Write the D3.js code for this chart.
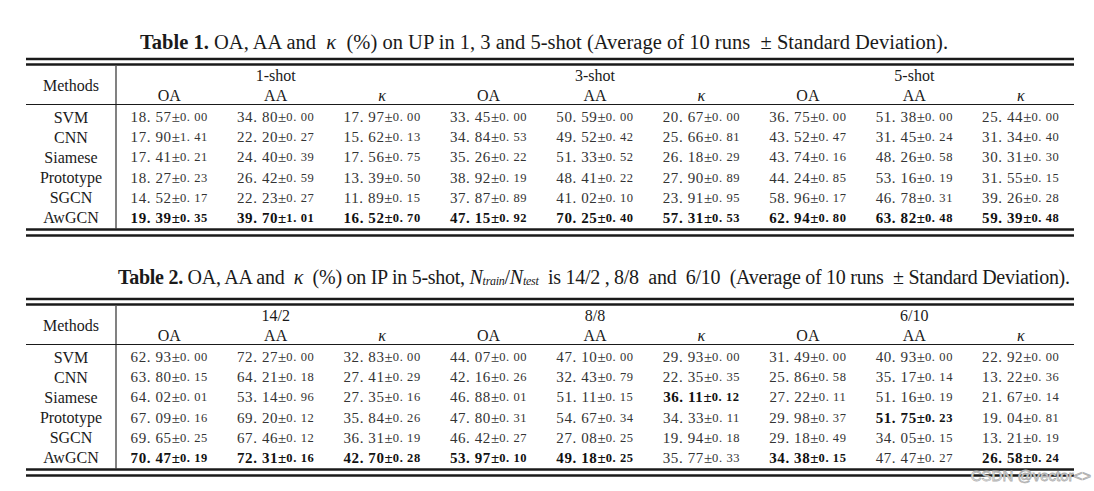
<!DOCTYPE html>
<html>
<head>
<meta charset="utf-8">
<script src="https://cdn.jsdelivr.net/npm/d3@7"></script>
<style>
  body { margin: 0; background: #fff; }
  svg { display: block; }
</style>
</head>
<body>
<div id="chart"></div>
<script>
// table data
const methods = ["SVM", "CNN", "Siamese", "Prototype", "SGCN", "AwGCN"];
const metrics = ["OA", "AA", "κ", "OA", "AA", "κ", "OA", "AA", "κ"];
const groups1 = ["1-shot", "3-shot", "5-shot"];
const groups2 = ["14/2", "8/8", "6/10"];

const t1Mean = [
  [18.57, 34.80, 17.97, 33.45, 50.59, 20.67, 36.75, 51.38, 25.44],
  [17.90, 22.20, 15.62, 34.84, 49.52, 25.66, 43.52, 31.45, 31.34],
  [17.41, 24.40, 17.56, 35.26, 51.33, 26.18, 43.74, 48.26, 30.31],
  [18.27, 26.42, 13.39, 38.92, 48.41, 27.90, 44.24, 53.16, 31.55],
  [14.52, 22.23, 11.89, 37.87, 41.02, 23.91, 58.96, 46.78, 39.26],
  [19.39, 39.70, 16.52, 47.15, 70.25, 57.31, 62.94, 63.82, 59.39]
];
const t1Std = [
  [0.00, 0.00, 0.00, 0.00, 0.00, 0.00, 0.00, 0.00, 0.00],
  [1.41, 0.27, 0.13, 0.53, 0.42, 0.81, 0.47, 0.24, 0.40],
  [0.21, 0.39, 0.75, 0.22, 0.52, 0.29, 0.16, 0.58, 0.30],
  [0.23, 0.59, 0.50, 0.19, 0.22, 0.89, 0.85, 0.19, 0.15],
  [0.17, 0.27, 0.15, 0.89, 0.10, 0.95, 0.17, 0.31, 0.28],
  [0.35, 1.01, 0.70, 0.92, 0.40, 0.53, 0.80, 0.48, 0.48]
];
const t1Bold = [[5, 0], [5, 1], [5, 2], [5, 3], [5, 4], [5, 5], [5, 6], [5, 7], [5, 8]];

const t2Mean = [
  [62.93, 72.27, 32.83, 44.07, 47.10, 29.93, 31.49, 40.93, 22.92],
  [63.80, 64.21, 27.41, 42.16, 32.43, 22.35, 25.86, 35.17, 13.22],
  [64.02, 53.14, 27.35, 46.88, 51.11, 36.11, 27.22, 51.16, 21.67],
  [67.09, 69.20, 35.84, 47.80, 54.67, 34.33, 29.98, 51.75, 19.04],
  [69.65, 67.46, 36.31, 46.42, 27.08, 19.94, 29.18, 34.05, 13.21],
  [70.47, 72.31, 42.70, 53.97, 49.18, 35.77, 34.38, 47.47, 26.58]
];
const t2Std = [
  [0.00, 0.00, 0.00, 0.00, 0.00, 0.00, 0.00, 0.00, 0.00],
  [0.15, 0.18, 0.29, 0.26, 0.79, 0.35, 0.58, 0.14, 0.36],
  [0.01, 0.96, 0.16, 0.01, 0.15, 0.12, 0.11, 0.19, 0.14],
  [0.16, 0.12, 0.26, 0.31, 0.34, 0.11, 0.37, 0.23, 0.81],
  [0.25, 0.12, 0.19, 0.27, 0.25, 0.18, 0.49, 0.15, 0.19],
  [0.19, 0.16, 0.28, 0.10, 0.25, 0.33, 0.15, 0.27, 0.24]
];
const t2Bold = [[5, 0], [5, 1], [5, 2], [5, 3], [5, 4], [2, 5], [5, 6], [3, 7], [5, 8]];

const width = 1094,
  height = 491,
  left = 26,
  right = 1074,
  sepX = 116,
  serif = "'Liberation Serif', 'Times New Roman', serif",
  ink = "#1a1a1a";

const svg = d3
  .create("svg")
  .attr("width", width)
  .attr("height", height)
  .attr("viewBox", [0, 0, width, height]);

const xCol = d3.scaleBand(d3.range(metrics.length), [sepX, right]);
const yRow = d3.scaleBand(methods, [107, 228]);

function drawTable(oy, groups, mean, std, bold) {
  const g = svg.append("g").attr("transform", `translate(0,${oy})`);
  const isBold = (r, c) => bold.some(([br, bc]) => br === r && bc === c);

  // rules
  [59, 64.5, 229.5, 235.5].forEach((y) => {
    g.append("line")
      .attr("x1", left).attr("x2", right)
      .attr("y1", y).attr("y2", y)
      .attr("stroke", ink).attr("stroke-width", 2.6);
  });
  g.append("line")
    .attr("x1", left).attr("x2", right)
    .attr("y1", 104.5).attr("y2", 104.5)
    .attr("stroke", ink).attr("stroke-width", 1.1);
  g.append("line")
    .attr("x1", sepX).attr("x2", sepX)
    .attr("y1", 66).attr("y2", 228.5)
    .attr("stroke", ink).attr("stroke-width", 1.1);

  // header
  g.append("text")
    .attr("x", (left + sepX) / 2).attr("y", 85)
    .attr("text-anchor", "middle").attr("dominant-baseline", "central")
    .attr("font-family", serif).attr("font-size", 16).attr("fill", ink)
    .text("Methods");

  g.selectAll(".grp")
    .data(groups)
    .join("text")
    .attr("class", "grp")
    .attr("x", (d, i) => xCol(i * 3 + 1) + xCol.bandwidth() / 2)
    .attr("y", 75)
    .attr("text-anchor", "middle").attr("dominant-baseline", "central")
    .attr("font-family", serif).attr("font-size", 16).attr("fill", ink)
    .text((d) => d);

  g.selectAll(".met")
    .data(metrics)
    .join("text")
    .attr("class", "met")
    .attr("x", (d, i) => xCol(i) + xCol.bandwidth() / 2)
    .attr("y", 95)
    .attr("text-anchor", "middle").attr("dominant-baseline", "central")
    .attr("font-family", serif).attr("font-size", 16).attr("fill", ink)
    .attr("font-style", (d) => (d === "κ" ? "italic" : null))
    .text((d) => d);

  // method names
  g.selectAll(".mth")
    .data(methods)
    .join("text")
    .attr("class", "mth")
    .attr("x", (left + sepX) / 2)
    .attr("y", (d) => yRow(d) + yRow.bandwidth() / 2)
    .attr("text-anchor", "middle").attr("dominant-baseline", "central")
    .attr("font-family", serif).attr("font-size", 16).attr("fill", ink)
    .text((d) => d);

  // cells
  const cells = [];
  mean.forEach((row, r) =>
    row.forEach((v, c) => cells.push({ r, c, v, s: std[r][c], b: isBold(r, c) }))
  );

  const t = g.selectAll(".cell")
    .data(cells)
    .join("text")
    .attr("class", "cell")
    .attr("x", (d) => xCol(d.c) + xCol.bandwidth() / 2)
    .attr("y", (d) => yRow(methods[d.r]) + yRow.bandwidth() / 2)
    .attr("text-anchor", "middle").attr("dominant-baseline", "central")
    .attr("font-family", serif)
    .attr("font-weight", (d) => (d.b ? "bold" : null))
    .attr("fill", (d) => (d.b ? "#111" : "#333"));

  t.append("tspan")
    .attr("font-size", 15)
    .attr("letter-spacing", 0.6)
    .text((d) => d.v.toFixed(2).replace(".", ". "));
  t.append("tspan")
    .attr("font-size", 15)
    .text("±");
  t.append("tspan")
    .attr("font-size", 12.5)
    .attr("letter-spacing", 0.6)
    .text((d) => d.s.toFixed(2).replace(".", ". "));
}

// titles
const title1 = svg.append("text")
  .attr("x", 544).attr("y", 42)
  .attr("text-anchor", "middle").attr("dominant-baseline", "central")
  .attr("textLength", 808).attr("lengthAdjust", "spacing")
  .attr("font-family", serif).attr("font-size", 20.5).attr("fill", ink);
title1.append("tspan").attr("font-weight", "bold").text("Table 1.");
title1.append("tspan").text(" OA, AA and\u00a0 ");
title1.append("tspan").attr("font-style", "italic").text("κ");
title1.append("tspan").text("\u00a0 (%) on UP in 1, 3 and 5-shot (Average of 10 runs\u00a0 ± Standard Deviation).");

const title2 = svg.append("text")
  .attr("x", 594).attr("y", 277)
  .attr("text-anchor", "middle").attr("dominant-baseline", "central")
  .attr("textLength", 952).attr("lengthAdjust", "spacing")
  .attr("font-family", serif).attr("font-size", 20).attr("fill", ink);
title2.append("tspan").attr("font-weight", "bold").text("Table 2.");
title2.append("tspan").text(" OA, AA and\u00a0 ");
title2.append("tspan").attr("font-style", "italic").text("κ");
title2.append("tspan").text("\u00a0 (%) on IP in 5-shot, ");
title2.append("tspan").attr("font-style", "italic").text("N");
title2.append("tspan").attr("font-style", "italic").attr("font-size", 12).attr("dy", 4).text("train");
title2.append("tspan").attr("dy", -4).text("/");
title2.append("tspan").attr("font-style", "italic").text("N");
title2.append("tspan").attr("font-style", "italic").attr("font-size", 12).attr("dy", 4).text("test");
title2.append("tspan").attr("dy", -4).text("\u00a0 is 14/2 , 8/8\u00a0 and\u00a0 6/10\u00a0 (Average of 10 runs\u00a0 ± Standard Deviation).");

drawTable(0, groups1, t1Mean, t1Std, t1Bold);
drawTable(240, groups2, t2Mean, t2Std, t2Bold);

// watermark
svg.append("text")
  .attr("x", 1091).attr("y", 475)
  .attr("text-anchor", "end").attr("dominant-baseline", "central")
  .attr("font-family", "'Liberation Sans', sans-serif").attr("font-size", 15)
  .attr("fill", "#fff").attr("stroke", "#b0b0b0").attr("stroke-width", 0.8)
  .text("CSDN @vector<>");

d3.select("#chart").append(() => svg.node());
</script>
</body>
</html>
